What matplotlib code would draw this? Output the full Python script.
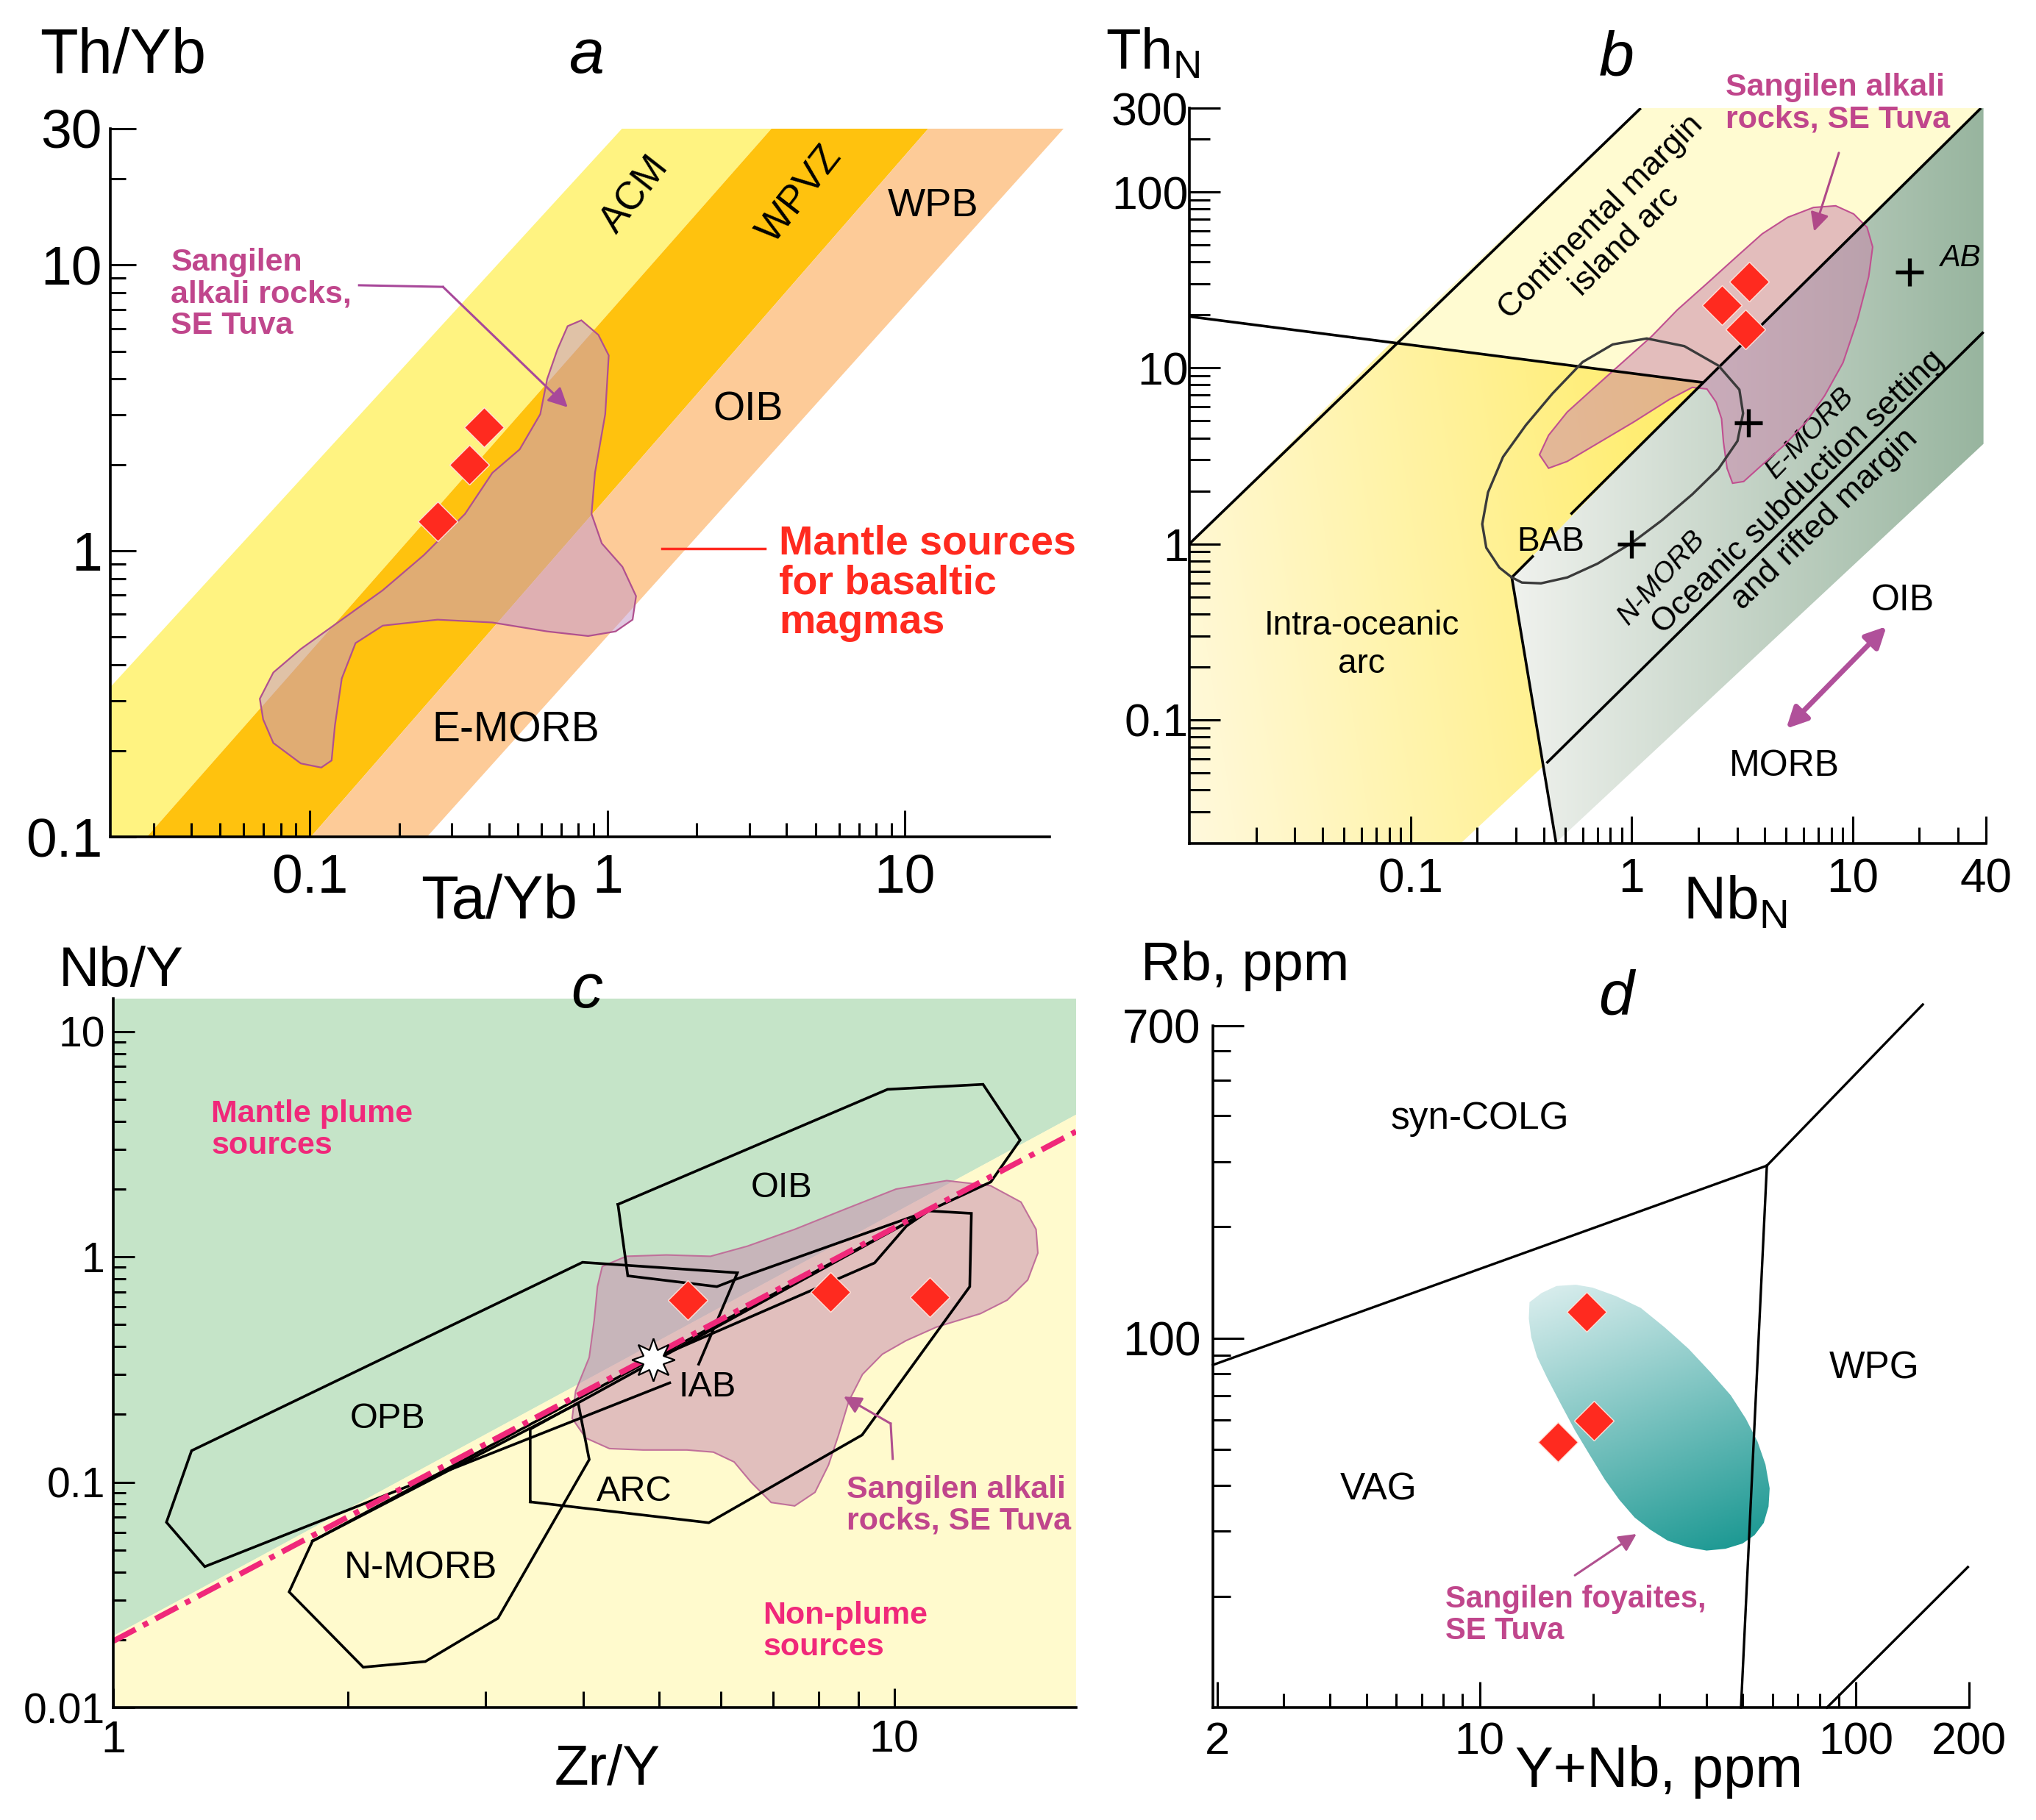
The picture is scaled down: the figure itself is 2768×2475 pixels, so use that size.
import numpy as np
import matplotlib
matplotlib.use('Agg')
import matplotlib.pyplot as plt
from matplotlib.patches import Polygon
from matplotlib.colors import LinearSegmentedColormap
from matplotlib.ticker import NullFormatter

plt.rcParams['font.family'] = ['Liberation Sans', 'DejaVu Sans']
plt.rcParams['mathtext.fontset'] = 'custom'
plt.rcParams['mathtext.rm'] = 'Liberation Sans'

# ---------------- data ----------------
# panel a: Th/Yb vs Ta/Yb
a_ta_yb = [0.386, 0.343, 0.269]
a_th_yb = [2.71, 2.00, 1.27]
a_band_acm = [(0.0214, 0.1), (0.0214, 0.334), (1.12, 30), (3.56, 30), (0.0284, 0.1)]
a_band_wpvz = [(0.0284, 0.1), (3.56, 30), (11.97, 30), (0.101, 0.1)]
a_band_wpb = [(0.101, 0.1), (11.97, 30), (34.1, 30), (0.248, 0.1)]
a_field_x = [0.818, 0.933, 1.011, 0.984, 0.909, 0.885, 0.958, 1.124, 1.249, 1.216, 1.066, 0.862,
             0.628, 0.411, 0.269, 0.176, 0.1426, 0.1282, 0.1216, 0.1185, 0.1094, 0.0934, 0.0755,
             0.0698, 0.068, 0.0755, 0.0934, 0.1282, 0.176, 0.242, 0.3325, 0.411, 0.5077, 0.5953,
             0.628, 0.6795, 0.7356]
a_field_y = [6.41, 5.70, 4.83, 3.01, 1.876, 1.347, 1.063, 0.880, 0.695, 0.575, 0.523, 0.504,
             0.523, 0.562, 0.575, 0.548, 0.476, 0.358, 0.2455, 0.185, 0.1747, 0.1806, 0.213,
             0.2574, 0.304, 0.3757, 0.454, 0.575, 0.7286, 0.9674, 1.347, 1.876, 2.266, 3.01,
             3.996, 5.06, 6.115]
a_arrow_x = [0.1466, 0.2805, 0.736]
a_arrow_y = [8.5, 8.39, 3.18]
a_mantle_line_x = [1.53, 3.38]
a_mantle_line_y = [1.02, 1.02]

# panel b: ThN vs NbN
b_nb = [3.40, 2.55, 3.27]
b_th = [30.9, 22.8, 16.5]
b_ref_names = ['N-MORB', 'E-MORB', 'AB']
b_ref_nb = [1.0, 3.37, 18.1]
b_ref_th = [1.0, 4.86, 35.2]
b_intra_arc = [(0.01, 0.02), (0.01, 1), (0.082, 14), (2.11, 8.26), (0.287, 0.644),
               (0.412, 0.0566), (0.17, 0.02)]
b_cont_arc = [(0.082, 14), (1.1, 300), (38, 300), (2.11, 8.26)]
b_oceanic = [(0.287, 0.644), (2.11, 8.26), (38, 300), (39, 300), (39, 3.7), (0.455, 0.02)]
b_line_upper = ([0.01, 1.1], [1, 300])
b_line_desc = ([0.01, 2.11], [19.6, 8.26])
b_line_mid1 = ([0.287, 0.36], [0.644, 0.857])
b_line_mid2 = ([0.53, 2.11, 38], [1.47, 8.26, 300])
b_line_vert = ([0.287, 0.455], [0.644, 0.02])
b_line_low = ([0.412, 39], [0.0566, 16])
b_bab_x = [0.287, 0.252, 0.220, 0.211, 0.224, 0.262, 0.332, 0.438, 0.600, 0.821, 1.17, 1.73,
           2.47, 3.07, 3.19, 3.01, 2.47, 1.88, 1.37, 1.0, 0.702, 0.512, 0.389, 0.319, 0.287]
b_bab_y = [0.644, 0.733, 0.950, 1.295, 1.96, 3.12, 4.72, 7.14, 10.8, 13.6, 14.7, 13.3,
           10.3, 7.52, 5.52, 3.84, 2.67, 1.91, 1.36, 1.01, 0.772, 0.644, 0.596, 0.602, 0.644]
b_field_x = [0.383, 0.421, 0.511, 0.667, 0.905, 1.23, 1.61, 2.19, 2.97, 3.89, 5.08, 6.64, 8.37,
             10.1, 11.6, 12.3, 11.8, 10.5, 9.03, 7.46, 6.15, 4.90, 3.89, 3.21, 2.86, 2.70, 2.60,
             2.55, 2.41, 2.19, 1.88, 1.49, 1.02, 0.721, 0.511, 0.421]
b_field_y = [3.21, 4.14, 5.61, 7.59, 10.7, 15.1, 21.4, 30.2, 42.7, 57.8, 71.8, 81.7, 83.5,
             75, 63, 48.7, 33, 18.8, 10.7, 6.95, 4.92, 3.64, 2.81, 2.26, 2.21, 2.69, 3.80,
             5.14, 6.38, 7.59, 7.75, 6.65, 4.92, 3.80, 2.94, 2.69]
b_arrow_x = [8.65, 6.68]
b_arrow_y = [167, 59.8]
b_morb_oib_x = [5.0, 14.2]
b_morb_oib_y = [0.089, 0.339]

# panel c: Nb/Y vs Zr/Y
c_zr_y = [5.44, 8.28, 11.1]
c_nb_y = [0.643, 0.70, 0.665]
c_pm = (4.91, 0.351)
c_plume_bg = [(1, 0.0208), (1, 14), (17.1, 14), (17.1, 4.28)]
c_nonplume_bg = [(1, 0.01), (1, 0.0208), (17.1, 4.28), (17.1, 0.01)]
c_divide_x = [1, 17.1]
c_divide_y = [0.0197, 3.6]
c_opb_x = [5.62, 6.3, 3.99, 1.26, 1.17, 1.31, 5.16]
c_opb_y = [0.334, 0.85, 0.946, 0.138, 0.0664, 0.0422, 0.276]
c_oib_x = [4.43, 9.81, 13.0, 14.5, 13.3, 11.07, 6.3, 5.93, 4.56, 4.43]
c_oib_y = [1.71, 5.54, 5.83, 3.30, 2.15, 1.60, 0.80, 0.738, 0.824, 1.71]
c_nmorb_x = [1.80, 3.94, 4.07, 3.11, 2.51, 2.09, 1.68, 1.80]
c_nmorb_y = [0.0548, 0.224, 0.126, 0.0249, 0.016, 0.0151, 0.0326, 0.0548]
c_arc_x = [3.42, 3.42, 11.07, 12.56, 12.5, 9.1, 5.79, 3.42]
c_arc_y = [0.0818, 0.172, 1.60, 1.56, 0.738, 0.162, 0.0661, 0.0818]
c_trend_x = [1.80, 11.07]
c_trend_y = [0.0548, 1.60]
c_iab_x = [4.91, 9.44, 10.37, 11.07]
c_iab_y = [0.351, 0.94, 1.37, 1.60]
c_field_x = [4.23, 4.54, 5.11, 5.82, 6.49, 7.46, 8.66, 10.06, 11.68, 13.29, 14.54, 15.2, 15.28,
             14.83, 13.96, 12.9, 11.33, 10.36, 9.66, 9.11, 8.75, 8.49, 8.24, 7.92, 7.46, 6.96,
             6.56, 6.24, 5.87, 5.43, 4.77, 4.32, 4.03, 3.87, 3.91, 4.07, 4.13, 4.17]
c_field_y = [0.907, 1.006, 1.02, 1.006, 1.116, 1.325, 1.63, 2.00, 2.18, 2.07, 1.75, 1.325, 1.04,
             0.79, 0.643, 0.56, 0.488, 0.425, 0.370, 0.301, 0.229, 0.162, 0.119, 0.0902, 0.0785,
             0.0813, 0.100, 0.123, 0.136, 0.139, 0.139, 0.141, 0.157, 0.192, 0.254, 0.358,
             0.523, 0.738]
c_arrow_x = [9.96, 9.9, 8.62]
c_arrow_y = [0.127, 0.182, 0.240]

# panel d: Rb vs Y+Nb
d_ynb = [19.2, 20.1, 16.1]
d_rb = [117.6, 59.9, 52.4]
d_line_colg = ([1.95, 58], [84.6, 293])
d_line_up = ([58, 150.7], [293, 800])
d_line_wpg = ([58, 49.5], [293, 10])
d_line_org = ([83.8, 198.6], [10, 24.0])
d_field_x = [13.56, 14.6, 16.0, 18.0, 19.95, 23.0, 26.8, 31.0, 35.9, 41.0, 46.5, 51.0, 54.8,
             57.5, 59.0, 58.6, 56.9, 53.8, 50.0, 45.0, 40.1, 35.5, 31.6, 28.4, 25.8, 23.5,
             21.5, 19.6, 17.9, 16.4, 15.1, 14.2, 13.7, 13.5]
d_field_y = [125.1, 132.5, 138.4, 139.5, 137, 130, 120.7, 107, 93.6, 81, 70.0, 60.5, 52.4,
             45.5, 39.2, 35.0, 31.6, 29.3, 27.8, 26.9, 26.6, 27.2, 28.3, 30.3, 32.7, 36.5,
             41.4, 48.3, 56.3, 66.5, 78.1, 89.0, 100.6, 113.0]
d_arrow_x = [17.9, 26.1]
d_arrow_y = [22.8, 29.5]

# ---------------- styles ----------------
RED = '#FF2A1F'
PINK_TXT = '#C0468C'
PLUME = '#F0287A'
DIAMOND = dict(marker='D', ls='none', ms=28, mfc=RED, mec='#FFE0D8', mew=1.0, zorder=20,
               clip_on=False)


def log_axes(ax, xlim, ylim, xt, xtl, xminor, yt, ytl, yminor, xlen, ylen, xfs, yfs, xpad, ypad):
    ax.set_xscale('log')
    ax.set_yscale('log')
    ax.set_xticks(xt, xtl)
    ax.set_xticks(xminor, minor=True)
    ax.set_yticks(yt, ytl)
    ax.set_yticks(yminor, minor=True)
    ax.xaxis.set_minor_formatter(NullFormatter())
    ax.yaxis.set_minor_formatter(NullFormatter())
    ax.set_xlim(xlim)
    ax.set_ylim(ylim)
    ax.set_autoscale_on(False)
    for s in ['top', 'right']:
        ax.spines[s].set_visible(False)
    for s in ['left', 'bottom']:
        ax.spines[s].set_linewidth(2.6)
        ax.spines[s].set_zorder(30)
    ax.tick_params(axis='x', which='major', direction='in', length=xlen[0], width=2.2,
                   labelsize=xfs, pad=xpad)
    ax.tick_params(axis='x', which='minor', direction='in', length=xlen[1], width=2.2)
    ax.tick_params(axis='y', which='major', direction='in', length=ylen[0], width=2.2,
                   labelsize=yfs, pad=ypad)
    ax.tick_params(axis='y', which='minor', direction='in', length=ylen[1], width=2.2)


def gradient_patch(ax, verts, c0, c1, vec, zorder):
    poly = Polygon(verts, closed=True, fc='none', ec='none', zorder=zorder)
    ax.add_patch(poly)
    pts = ax.transAxes.inverted().transform(ax.transData.transform(np.array(verts)))
    x0, y0 = pts.min(0)
    x1, y1 = pts.max(0)
    u = np.linspace(0, 1, 200)
    X, Y = np.meshgrid(u, u)
    val = vec[0] * X + vec[1] * Y
    val = (val - val.min()) / (val.max() - val.min())
    cmap = LinearSegmentedColormap.from_list('g', [c0, c1])
    im = ax.imshow(val, cmap=cmap, extent=(x0, x1, y0, y1), origin='lower',
                   transform=ax.transAxes, aspect='auto', zorder=zorder,
                   interpolation='bilinear')
    im.set_clip_path(poly)


def txt(ax, x, y, s, size, **kw):
    kw.setdefault('ha', 'center')
    kw.setdefault('va', 'center')
    ax.text(x, y, s, fontsize=size, transform=ax.transAxes, clip_on=False, **kw)


fig = plt.figure(figsize=(27.68, 24.75), dpi=100)

# ================= panel a =================
ax = fig.add_axes([0.0542, 0.5402, 0.4613, 0.3891])
log_axes(ax, (0.0214, 30.6), (0.1, 30),
         [0.1, 1, 10], ['0.1', '1', '10'],
         [0.03, 0.04, 0.05, 0.06, 0.07, 0.08, 0.09] + [0.2, 0.3, 0.4, 0.5, 0.6, 0.7, 0.8, 0.9]
         + [2, 3, 4, 5, 6, 7, 8, 9],
         [0.1, 1, 10, 30], ['0.1', '1', '10', '30'],
         [0.2, 0.3, 0.4, 0.5, 0.6, 0.7, 0.8, 0.9, 2, 3, 4, 5, 6, 7, 8, 9, 20],
         (26, 14), (25, 15), 54, 54, 16, 8)
ax.add_patch(Polygon(a_band_acm, closed=True, fc='#FFF381', ec='none', zorder=1))
ax.add_patch(Polygon(a_band_wpvz, closed=True, fc='#FFC20E', ec='none', zorder=1))
ax.add_patch(Polygon(a_band_wpb, closed=True, fc='#FDCB98', ec='none', zorder=1, clip_on=False))
ax.fill(a_field_x, a_field_y, fc='#C89BC8', alpha=0.55, ec='none', zorder=3)
ax.fill(a_field_x, a_field_y, fc='none', ec='#B0508F', lw=1.6, zorder=4)
ax.plot(a_ta_yb, a_th_yb, **DIAMOND)
ax.plot(a_arrow_x[:2], a_arrow_y[:2], color='#A8489A', lw=2.2, zorder=6)
ax.annotate('', xy=(a_arrow_x[2], a_arrow_y[2]), xytext=(a_arrow_x[1], a_arrow_y[1]),
            arrowprops=dict(arrowstyle='-|>', color='#A8489A', lw=2.2, mutation_scale=40,
                            shrinkA=0, shrinkB=0), zorder=6)
ax.plot(a_mantle_line_x, a_mantle_line_y, color='#FF2A1F', lw=2.5, zorder=6)
txt(ax, 0.559, 0.907, 'ACM', 38, rotation=52)
txt(ax, 0.734, 0.907, 'WPVZ', 38, rotation=52)
txt(ax, 0.876, 0.891, 'WPB', 39)
txt(ax, 0.679, 0.603, 'OIB', 40)
txt(ax, 0.432, 0.150, 'E-MORB', 41)
txt(ax, 0.0645, 0.766, 'Sangilen\nalkali rocks,\nSE Tuva', 31, ha='left', color=PINK_TXT,
    fontweight='bold', linespacing=1.1)
txt(ax, 0.712, 0.358, 'Mantle sources\nfor basaltic\nmagmas', 40, ha='left', color='#FF2A1F',
    fontweight='bold', linespacing=1.05)
txt(ax, -0.075, 1.102, 'Th/Yb', 61, ha='left')
txt(ax, 0.507, 1.102, 'a', 62, fontstyle='italic')
txt(ax, 0.414, -0.092, 'Ta/Yb', 60)

# ================= panel b =================
ax = fig.add_axes([0.5842, 0.5366, 0.3912, 0.4040])
log_axes(ax, (0.01, 40), (0.0198, 300),
         [0.1, 1, 10, 40], ['0.1', '1', '10', '40'],
         [0.02, 0.03, 0.04, 0.05, 0.06, 0.07, 0.08, 0.09, 0.2, 0.3, 0.4, 0.5, 0.6, 0.7, 0.8,
          0.9, 2, 3, 4, 5, 6, 7, 8, 9, 20, 30],
         [0.1, 1, 10, 100, 300], ['0.1', '1', '10', '100', '300'],
         [0.03, 0.04, 0.05, 0.06, 0.07, 0.08, 0.09, 0.2, 0.3, 0.4, 0.5, 0.6, 0.7, 0.8, 0.9,
          2, 3, 4, 5, 6, 7, 8, 9, 20, 30, 40, 50, 60, 70, 80, 90, 200],
         (27, 16), (30, 20), 46, 45, 14, 1)
ax.add_patch(Polygon(b_cont_arc, closed=True, fc='#FFFBD1', ec='none', zorder=1))
gradient_patch(ax, b_intra_arc, '#FFF9DC', '#FFEC64', (1.0, 0.15), 1)
gradient_patch(ax, b_oceanic, '#F0F2EE', '#98B59F', (1.0, 0.0), 1)
ax.fill(b_field_x, b_field_y, fc='#C880A8', alpha=0.5, ec='none', zorder=3)
ax.fill(b_field_x, b_field_y, fc='none', ec='#C05090', lw=1.5, zorder=4)
for xs, ys in [b_line_upper, b_line_desc, b_line_mid1, b_line_mid2, b_line_vert, b_line_low]:
    ax.plot(xs, ys, color='black', lw=2.6, zorder=5, solid_capstyle='butt')
ax.plot(b_bab_x, b_bab_y, color='#3A3A3A', lw=2.4, zorder=5)
ax.plot(b_ref_nb, b_ref_th, marker='+', ls='none', ms=28, mew=3.8, color='black', zorder=8)
ax.plot(b_nb, b_th, **DIAMOND)
ax.annotate('', xy=(b_arrow_x[1], b_arrow_y[1]), xytext=(b_arrow_x[0], b_arrow_y[0]),
            arrowprops=dict(arrowstyle='-|>', color='#B04888', lw=2.2, mutation_scale=38,
                            shrinkA=0, shrinkB=0), zorder=6, annotation_clip=False)
ax.annotate('', xy=(b_morb_oib_x[1], b_morb_oib_y[1]), xytext=(b_morb_oib_x[0], b_morb_oib_y[0]),
            arrowprops=dict(arrowstyle='<|-|>', color='#B0509A', lw=5, mutation_scale=42,
                            shrinkA=0, shrinkB=0), zorder=6)
txt(ax, 0.532, 0.835, 'Continental margin\nisland arc', 32, rotation=45, linespacing=1.15)
txt(ax, 0.673, 1.006, 'Sangilen alkali\nrocks, SE Tuva', 31, ha='left', color=PINK_TXT,
    fontweight='bold', linespacing=1.1)
txt(ax, 0.968, 0.796, 'AB', 30, fontstyle='italic')
txt(ax, 0.779, 0.558, 'E-MORB', 28, fontstyle='italic', rotation=46)
txt(ax, 0.593, 0.361, 'N-MORB', 28, fontstyle='italic', rotation=48)
txt(ax, 0.781, 0.459, 'Oceanic subduction setting\nand rifted margin', 32, rotation=44,
    linespacing=1.3)
txt(ax, 0.454, 0.41, 'BAB', 33)
txt(ax, 0.216, 0.27, 'Intra-oceanic\narc', 33, linespacing=1.25)
txt(ax, 0.895, 0.33, 'OIB', 36)
txt(ax, 0.747, 0.105, 'MORB', 36)
txt(ax, -0.105, 1.074, 'Th$_{\\mathregular{N}}$', 56, ha='left')
txt(ax, 0.536, 1.067, 'b', 62, fontstyle='italic')
txt(ax, 0.685, -0.082, 'Nb$_{\\mathregular{N}}$', 58)

# ================= panel c =================
ax = fig.add_axes([0.0556, 0.0618, 0.4729, 0.3895])
log_axes(ax, (1, 17.1), (0.01, 14),
         [1, 10], ['1', '10'], [2, 3, 4, 5, 6, 7, 8, 9],
         [0.01, 0.1, 1, 10], ['0.01', '0.1', '1', '10'],
         [0.02, 0.03, 0.04, 0.05, 0.06, 0.07, 0.08, 0.09, 0.2, 0.3, 0.4, 0.5, 0.6, 0.7, 0.8,
          0.9, 2, 3, 4, 5, 6, 7, 8, 9],
         (19, 16), (21, 12), 44, 41, 12, 8)
ax.add_patch(Polygon(c_plume_bg, closed=True, fc='#C5E4C8', ec='none', zorder=0))
ax.add_patch(Polygon(c_nonplume_bg, closed=True, fc='#FFFACD', ec='none', zorder=0))
ax.fill(c_field_x, c_field_y, fc='#C990B0', alpha=0.55, ec='none', zorder=2)
ax.fill(c_field_x, c_field_y, fc='none', ec='#C0709A', lw=1.5, zorder=2)
for xs, ys in [(c_opb_x, c_opb_y), (c_oib_x, c_oib_y), (c_nmorb_x, c_nmorb_y),
               (c_arc_x, c_arc_y), (c_trend_x, c_trend_y), (c_iab_x, c_iab_y)]:
    ax.plot(xs, ys, color='black', lw=2.6, zorder=4, solid_joinstyle='miter')
ax.plot(c_divide_x, c_divide_y, color=PLUME, lw=5.5, dashes=(4.5, 1.5, 1.0, 1.5), zorder=5)
ax.plot([c_pm[0]], [c_pm[1]], marker=(8, 1, 0), ms=42, mfc='white', mec='black', mew=1.6,
        ls='none', zorder=8)
ax.plot(c_zr_y, c_nb_y, **DIAMOND)
ax.plot(c_arrow_x[:2], c_arrow_y[:2], color='#B0508F', lw=2.2, zorder=6)
ax.annotate('', xy=(c_arrow_x[2], c_arrow_y[2]), xytext=(c_arrow_x[1], c_arrow_y[1]),
            arrowprops=dict(arrowstyle='-|>', color='#B0508F', lw=2.2, mutation_scale=36,
                            shrinkA=0, shrinkB=0), zorder=6)
txt(ax, 0.102, 0.815, 'Mantle plume\nsources', 31, ha='left', color=PLUME, fontweight='bold',
    linespacing=1.1)
txt(ax, 0.675, 0.107, 'Non-plume\nsources', 31, ha='left', color=PLUME, fontweight='bold',
    linespacing=1.1)
txt(ax, 0.694, 0.733, 'OIB', 35)
txt(ax, 0.285, 0.407, 'OPB', 35)
txt(ax, 0.617, 0.452, 'IAB', 35)
txt(ax, 0.541, 0.305, 'ARC', 35)
txt(ax, 0.319, 0.196, 'N-MORB', 37)
txt(ax, 0.762, 0.285, 'Sangilen alkali\nrocks, SE Tuva', 31, ha='left', color=PINK_TXT,
    fontweight='bold', linespacing=1.1)
txt(ax, -0.0565, 1.038, 'Nb/Y', 55, ha='left')
txt(ax, 0.492, 1.010, 'c', 62, fontstyle='italic')
txt(ax, 0.513, -0.089, 'Zr/Y', 55)

# ================= panel d =================
ax = fig.add_axes([0.5957, 0.0618, 0.3714, 0.3745])
log_axes(ax, (1.95, 200), (10, 700),
         [2, 10, 100, 200], ['2', '10', '100', '200'],
         [3, 4, 5, 6, 7, 8, 9, 20, 30, 40, 50, 60, 70, 80, 90],
         [100, 700], ['100', '700'],
         [20, 30, 40, 50, 60, 70, 80, 90, 200, 300, 400, 500, 600],
         (25, 14), (30, 17), 44, 46, 14, 12)
gradient_patch(ax, list(zip(d_field_x, d_field_y)), '#DDEFEF', '#14958F', (0.35, -1.0), 1)
for xs, ys in [d_line_colg, d_line_up, d_line_wpg, d_line_org]:
    ax.plot(xs, ys, color='black', lw=2.4, zorder=4, clip_on=False)
ax.plot(d_ynb, d_rb, **DIAMOND)
ax.annotate('', xy=(d_arrow_x[1], d_arrow_y[1]), xytext=(d_arrow_x[0], d_arrow_y[0]),
            arrowprops=dict(arrowstyle='-|>', color='#B0508F', lw=2.2, mutation_scale=36,
                            shrinkA=0, shrinkB=0), zorder=6)
txt(ax, 0.353, 0.864, 'syn-COLG', 37)
txt(ax, 0.219, 0.319, 'VAG', 37)
txt(ax, 0.875, 0.497, 'WPG', 37)
txt(ax, 0.307, 0.135, 'Sangilen foyaites,\nSE Tuva', 30, ha='left', color=PINK_TXT,
    fontweight='bold', linespacing=1.1)
txt(ax, -0.095, 1.088, 'Rb, ppm', 54, ha='left')
txt(ax, 0.533, 1.041, 'd', 62, fontstyle='italic')
txt(ax, 0.59, -0.094, 'Y+Nb, ppm', 56)

fig.savefig('out.png', dpi=100, facecolor='white')
